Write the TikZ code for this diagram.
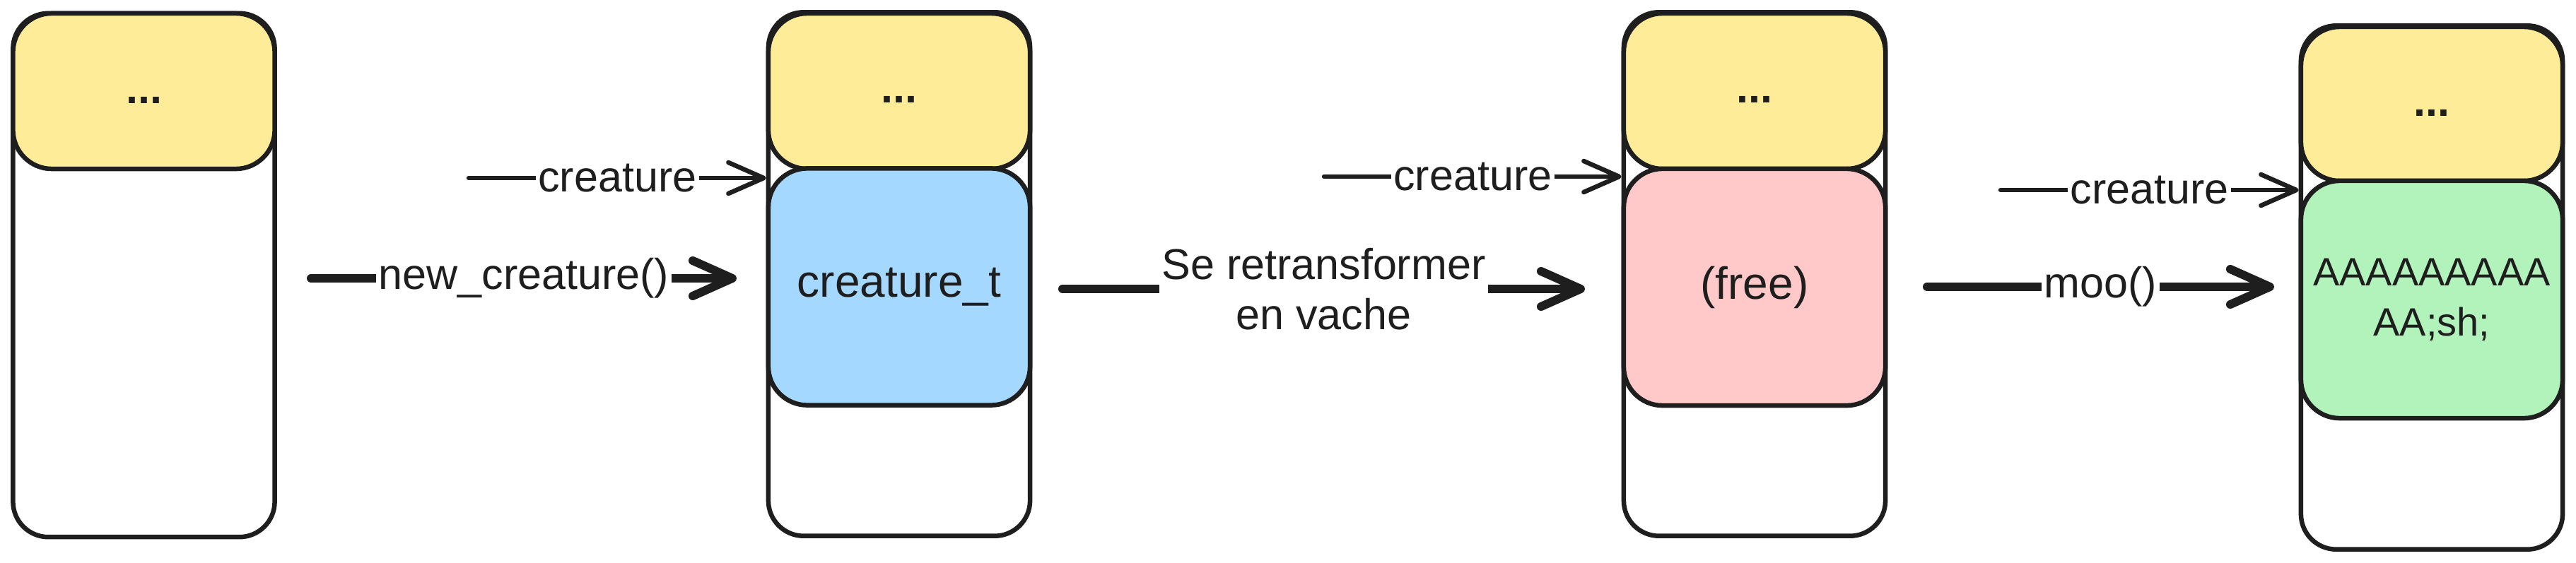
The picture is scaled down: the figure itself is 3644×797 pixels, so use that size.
\documentclass[tikz,border=0pt]{standalone}
\usepackage{fontspec}
\setmainfont{Liberation Sans}
\usetikzlibrary{arrows.meta}
\definecolor{ink}{HTML}{1E1E1E}
\definecolor{yel}{HTML}{FFEC99}
\definecolor{blu}{HTML}{A5D8FF}
\definecolor{pnk}{HTML}{FFC9C9}
\definecolor{grn}{HTML}{B2F2BB}
\newcommand\lblfont{\fontsize{17.36pt}{20.2pt}\selectfont}
\newcommand\boxfont{\fontsize{18.2pt}{20.2pt}\selectfont}
\newcommand\aafont{\fontsize{15.9pt}{20.2pt}\selectfont}
\newcommand\dotfont{\fontsize{17.36pt}{20.2pt}\selectfont\bfseries}
\begin{document}
\begin{tikzpicture}[x=0.01cm,y=-0.01cm,
  outerbox/.style={draw=ink, line width=0.065cm, rounded corners=0.5cm, fill=white,
    minimum width=3.7cm, minimum height=7.41cm, inner sep=0pt},
  block/.style={draw=ink, line width=0.065cm, rounded corners=0.55cm,
    minimum width=3.7cm, inner sep=0pt, text=ink, font=\boxfont, align=center},
  topblock/.style={block, fill=yel, minimum height=2.2cm},
  midblock/.style={block, minimum height=3.35cm},
  dots/.style={inner sep=0pt, text=ink, font=\dotfont},
  thinarrow/.style={draw=ink, line width=0.065cm, line cap=round,
    -{Straight Barb[length=0.5cm,width=0.44cm,round]}},
  thickarrow/.style={draw=ink, line width=0.12cm, line cap=round,
    -{Straight Barb[length=0.56cm,width=0.5cm,round]}},
  lbl/.style={fill=white, text=ink, font=\lblfont, inner xsep=1pt, inner ysep=2pt, align=center}
]
\useasboundingbox (0,0) rectangle (3644,797);

% memory columns
\node[outerbox] (b1) at (203.5,389.5) {};
\node[topblock] (y1) at (203.5,129) {};
\node[dots] (d1) at (203.5,142) {...};

\node[outerbox] (b2) at (1272,388) {};
\node[topblock] (y2) at (1272,129) {};
\node[dots] (d2) at (1272,141) {...};
\node[midblock, fill=blu] (m2) at (1272,406) {creature\_t};

\node[outerbox] (b3) at (2482,388) {};
\node[topblock] (y3) at (2482,129) {};
\node[dots] (d3) at (2482,141) {...};
\node[midblock, fill=pnk] (m3) at (2482,406.5) {(free)};

\node[outerbox] (b4) at (3440,407) {};
\node[topblock, minimum height=2.18cm] (y4) at (3440,147) {};
\node[dots] (d4) at (3440,160) {...};
\node[midblock, fill=grn, font=\aafont, minimum height=3.36cm] (m4) at (3440,424) {AAAAAAAAA\\AA;sh;};

% free ends
\coordinate (s1) at (663,252);
\coordinate (s2) at (440,394);
\coordinate (e2) at (1042,394);
\coordinate (s3) at (1873,250);
\coordinate (s4) at (1503,409);
\coordinate (e4) at (2242,409);
\coordinate (s5) at (2830,269);
\coordinate (s6) at (2726,406);
\coordinate (e6) at (3217,406);

% connectors
\draw[thinarrow] (s1) -- node[lbl] {creature} (s1 -| b2.west);
\draw[thickarrow] (s2) -- node[lbl] {new\_creature()} (e2);
\draw[thinarrow] (s3) -- node[lbl] {creature} (s3 -| b3.west);
\draw[thickarrow] (s4) -- node[lbl] {Se retransformer\\en vache} (e4);
\draw[thinarrow] (s5) -- node[lbl] {creature} (s5 -| b4.west);
\draw[thickarrow] (s6) -- node[lbl] {moo()} (e6);
\end{tikzpicture}
\end{document}
